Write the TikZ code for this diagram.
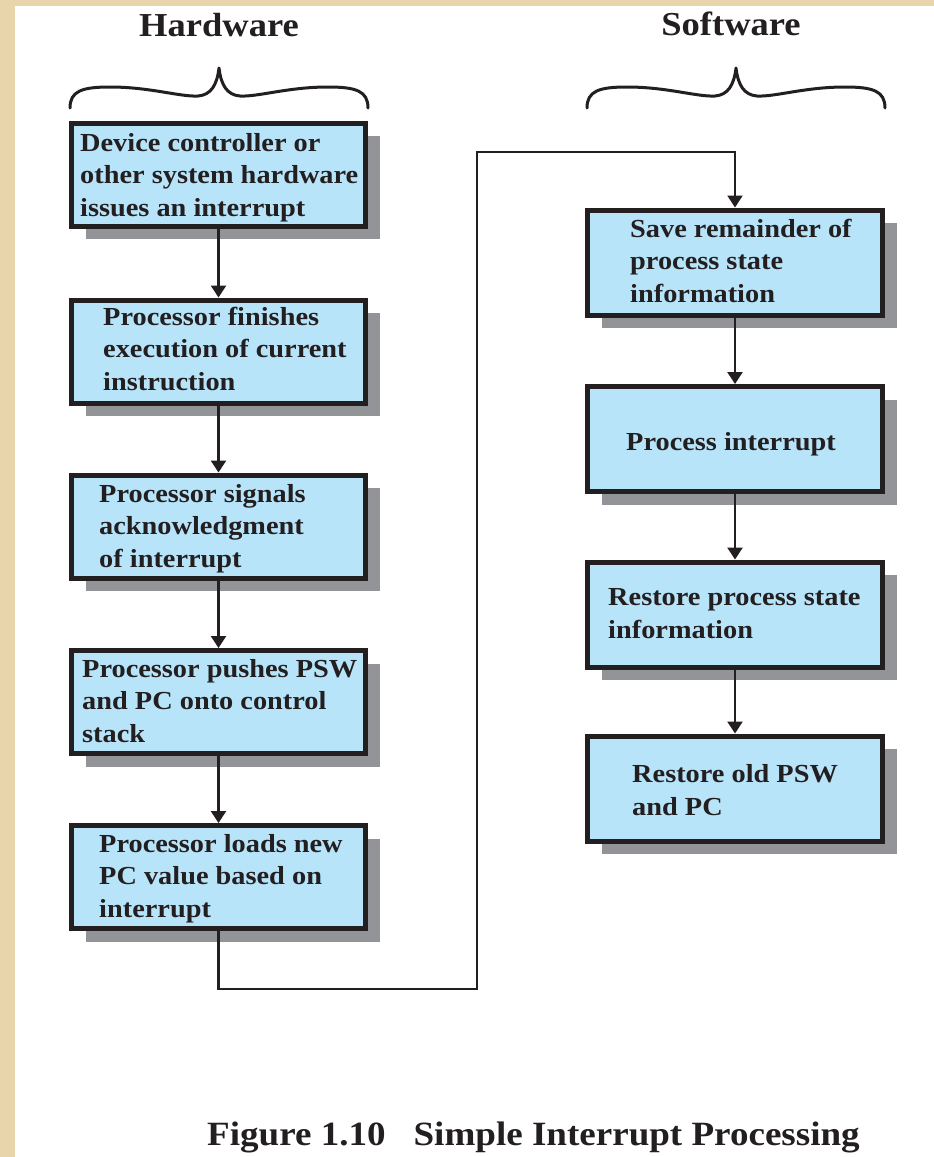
\documentclass[tikz,border=0pt]{standalone}
\usepackage{fontspec}
\setmainfont{Liberation Serif}[FakeStretch=1.09]
\usetikzlibrary{arrows.meta,calc,shadows}

\definecolor{ink}{HTML}{231F20}
\definecolor{boxblue}{HTML}{B8E4F9}
\definecolor{shade}{HTML}{929497}
\definecolor{parchment}{HTML}{E9D5AB}

\tikzset{
  stepbox/.style={draw=ink, line width=5pt, fill=boxblue,
    minimum width=294pt, minimum height=103pt, inner sep=0pt,
    drop shadow={shadow xshift=14pt, shadow yshift=-13pt, opacity=1, fill=shade}},
  swbox/.style={stepbox, minimum width=295pt, minimum height=105pt},
  % anchored at the baseline of the last line
  boxtext/.style={anchor=base west, align=left, inner sep=0pt, text=ink,
    font=\fontsize{26}{32.5}\selectfont\bfseries},
  heading/.style={anchor=base, inner sep=0pt, text=ink,
    font=\fontsize{33.5}{40}\selectfont\bfseries},
  flow/.style={draw=ink, line width=2.6pt,
    -{Triangle[length=12pt 0 0,width=15pt 0 0]}},
  brace/.style={draw=ink, line width=3pt, line cap=round, line join=round},
  bracepath/.pic={
    \draw[brace] (70,108) .. controls (70,91) and (82,87) .. (110,87)
      .. controls (150,87) and (180,97) .. (198,96)
      .. controls (211,95) and (217,85) .. (219,68)
      .. controls (221,85) and (227,95) .. (240,96)
      .. controls (258,97) and (288,87) .. (328,87)
      .. controls (356,87) and (368,91) .. (368,108);
  },
}

\begin{document}
\begin{tikzpicture}[x=1pt, y=-1pt]
  % page: tan edge, white sheet
  \fill[parchment] (0,0) rectangle (934,1157);
  \fill[white] (15,6) rectangle (934,1157);
  \useasboundingbox (0,0) rectangle (934,1157);

  % column headings with braces
  \node[heading] (hw) at (219,36) {Hardware};
  \node[heading] (sw) at (731,35) {Software};
  \pic at (0,0) {bracepath};
  \pic at (517,0) {bracepath};

  % hardware steps
  \node[stepbox] (b1) at (218.5,174.5) {};
  \node[stepbox] (b2) at (218.5,351.5) {};
  \node[stepbox] (b3) at (218.5,526.5) {};
  \node[stepbox] (b4) at (218.5,702) {};
  \node[stepbox] (b5) at (218.5,877) {};

  % software steps
  \node[swbox] (b6) at (735,262.5) {};
  \node[swbox] (b7) at (735,439) {};
  \node[swbox] (b8) at (735,614.5) {};
  \node[swbox] (b9) at (735,788.5) {};

  % step texts
  \node[boxtext] (t1) at (80,216) {Device controller or\\other system hardware\\issues an interrupt};
  \node[boxtext] (t2) at (103,390) {Processor finishes\\execution of current\\instruction};
  \node[boxtext] (t3) at (99,567) {Processor signals\\acknowledgment\\of interrupt};
  \node[boxtext] (t4) at (82,742) {Processor pushes PSW\\and PC onto control\\stack};
  \node[boxtext] (t5) at (99,917) {Processor loads new\\PC value based on\\interrupt};
  \node[boxtext] (t6) at (630,302) {Save remainder of\\process state\\information};
  \node[boxtext] (t7) at (626,450) {Process interrupt};
  \node[boxtext] (t8) at (608,638) {Restore process state\\information};
  \node[boxtext] (t9) at (632,815) {Restore old PSW\\and PC};

  % flow
  \draw[flow] (b1) -- (b2);
  \draw[flow] (b2) -- (b3);
  \draw[flow] (b3) -- (b4);
  \draw[flow] (b4) -- (b5);
  \coordinate (low) at (477,989);
  \coordinate (high) at (477,152);
  \draw[flow, line width=2.2pt] (b5.south) |- (low) -- (high) -| (b6.north);
  \draw[flow] (b6) -- (b7);
  \draw[flow] (b7) -- (b8);
  \draw[flow] (b8) -- (b9);

  % caption
  \node[anchor=base west, inner sep=0pt, text=ink, font=\fontsize{34}{40}\selectfont\bfseries]
    (cap) at (207,1145) {Figure 1.10\hspace{28pt}Simple Interrupt Processing};
\end{tikzpicture}
\end{document}
